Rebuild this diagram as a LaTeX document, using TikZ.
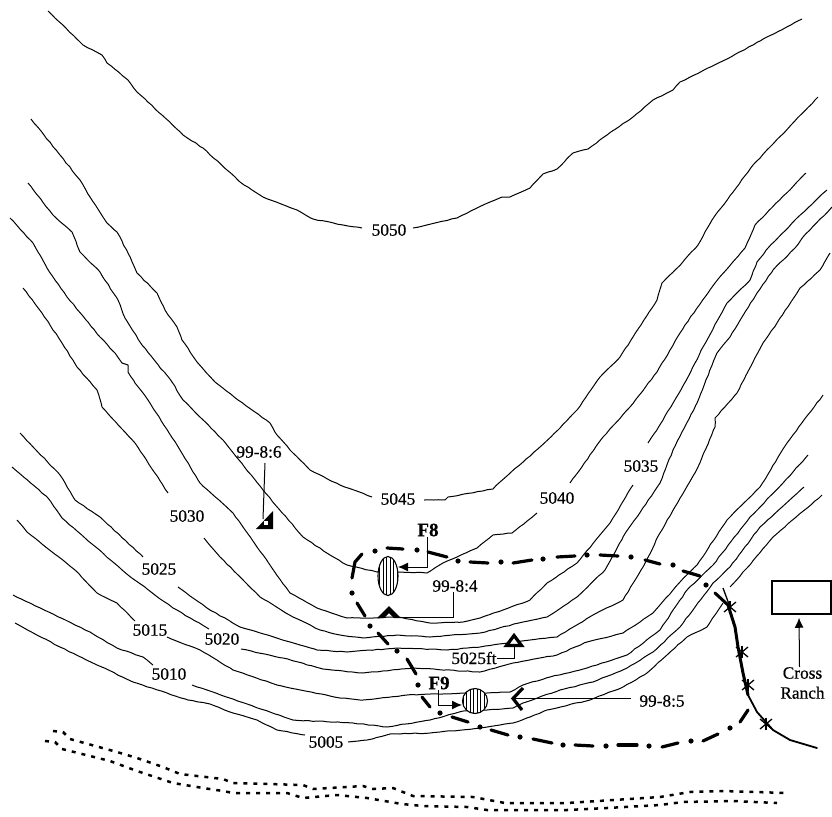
\documentclass[tikz,border=0pt]{standalone}
\usepackage{fontspec}
\setmainfont{Liberation Serif}[RawFeature={embolden=0.5}]
\usetikzlibrary{shapes.geometric}
\usetikzlibrary{arrows.meta}
\usetikzlibrary{decorations.pathmorphing}
\tikzset{
    contour/.style={line width=1pt, line join=round, decorate, decoration={random steps, segment length=5pt, amplitude=0.35pt}},
    elev/.style={font=\fontsize{17.3}{20}\selectfont, inner sep=0pt},
    sitename/.style={font=\fontsize{19}{20}\selectfont\bfseries, inner sep=0pt},
    leader/.style={line width=1pt},
    pointer/.style={leader, -{Latex[length=10pt, width=9pt]}},
    boundary/.style={line width=3.2pt, line cap=round},
    stream/.style={line width=2.5pt, dash pattern=on 4pt off 6pt, line join=round},
    fence/.style={line width=1.8pt, line join=round, line cap=round},
    marker/.style={line width=3.2pt, line join=miter},
    stripes/.style={draw, line width=1.1pt, fill=white, inner sep=0pt, path picture={
        \foreach \i in {-12,-8.5,...,12} {
            \draw[line width=1pt] ([xshift=\i pt]path picture bounding box.north) -- ([xshift=\i pt]path picture bounding box.south);
        }
    }}
}
\pgfmathsetseed{7}
\begin{document}
\begin{tikzpicture}[x=1pt, y=-1pt]
        \useasboundingbox (0,0) rectangle (832,816);

        % Contours
        \draw[contour] (48,11) -- (83,45) -- (102,55) -- (107,63) -- (128,80) -- (137,92) -- (162,115) -- (183,135) -- (203,148) -- (227,170) -- (240,182) -- (263,197) -- (297,210) -- (313,219) -- (343,225) -- (362,228);
        \draw[contour] (413,228) -- (457,218) -- (477,208) -- (502,197) -- (510,197) -- (530,188) -- (543,174) -- (557,169) -- (573,153) -- (588,149) -- (607,135) -- (633,117) -- (653,100) -- (673,90) -- (680,82) -- (727,59) -- (760,41) -- (802,19);

        \draw[contour] (31,119) -- (60,155) -- (80,180) -- (90,197) -- (107,223) -- (117,232) -- (128,253) -- (137,273) -- (157,293) -- (165,310) -- (177,327) -- (182,340) -- (197,362) -- (215,382) -- (238,400) -- (270,423) -- (277,435) -- (293,453) -- (310,470) -- (340,485) -- (372,497);
        \draw[contour] (424,500) -- (445,500) -- (448,497) -- (493,489) -- (500,482) -- (540,447) -- (560,428) -- (577,410) -- (600,377) -- (620,357) -- (633,337) -- (657,300) -- (662,283) -- (682,263) -- (698,245) -- (712,220) -- (753,165) -- (818,97);

        \draw[contour] (28,183) -- (53,215) -- (72,232) -- (80,252) -- (100,272) -- (118,300) -- (125,318) -- (142,345) -- (172,382) -- (183,400) -- (223,440) -- (263,490) -- (303,537) -- (330,555) -- (347,565) -- (377,572) -- (397,572) -- (427,573) -- (443,563) -- (477,548) -- (493,535) -- (512,533) -- (537,513);
        \draw[contour] (570,483) -- (603,437) -- (630,407) -- (657,372) -- (685,325) -- (715,283) -- (745,248) -- (755,225) -- (806,173);

        \draw[contour] (10,218) -- (33,243) -- (47,268) -- (67,297) -- (88,322) -- (100,337) -- (115,353) -- (122,363) -- (128,365) -- (128,372) -- (135,383) -- (148,400) -- (180,450) -- (200,483) -- (233,513) -- (257,547) -- (290,593) -- (317,608) -- (347,618) -- (373,618) -- (397,617) -- (430,623) -- (463,622) -- (480,618) -- (503,610) -- (530,600) -- (547,583) -- (577,563) -- (610,523) -- (633,485);
        \draw[contour] (648,443) -- (663,420) -- (688,377) -- (703,347) -- (727,303) -- (750,280) -- (757,262) -- (768,248) -- (797,218) -- (827,190);

        \draw[contour] (23,288) -- (42,313) -- (62,343) -- (77,367) -- (97,390) -- (102,407) -- (135,443) -- (168,493);
        \draw[contour] (204,538) -- (220,557) -- (260,597) -- (293,617) -- (320,630) -- (340,635) -- (363,638) -- (397,635) -- (430,637) -- (480,633) -- (523,622) -- (547,617) -- (577,597) -- (605,570) -- (623,537) -- (660,483) -- (673,450) -- (697,403) -- (717,353) -- (730,337) -- (757,293) -- (773,270) -- (795,248) -- (803,237) -- (832,207);

        \draw[contour] (20,433) -- (60,475) -- (75,500) -- (100,517) -- (143,557);
        \draw[contour] (178,587) -- (207,608) -- (240,627) -- (300,645) -- (317,650) -- (347,652) -- (397,648) -- (447,650) -- (480,647) -- (530,640) -- (557,637) -- (593,615) -- (623,600) -- (643,567) -- (660,533) -- (698,467) -- (715,427) -- (715,418) -- (737,393) -- (763,343) -- (777,323) -- (800,288) -- (820,270) -- (830,253);

        \draw[contour] (12,467) -- (48,498) -- (62,518) -- (128,575) -- (173,608) -- (209,629);
        \draw[contour] (241,649) -- (283,658) -- (323,669) -- (363,673) -- (413,668) -- (480,672) -- (513,663) -- (557,655) -- (587,642) -- (623,633) -- (653,613) -- (680,582) -- (697,565) -- (727,520) -- (760,487) -- (787,443) -- (823,395);

        \draw[contour] (17,520) -- (27,532) -- (75,570) -- (97,593) -- (117,603) -- (135,621);
        \draw[contour] (167,637) -- (200,650) -- (233,670) -- (277,685) -- (340,698) -- (363,700) -- (407,695) -- (463,693) -- (487,693) -- (510,692) -- (523,685) -- (550,677) -- (587,668) -- (627,655) -- (660,630) -- (687,590) -- (713,565) -- (750,517) -- (783,483) -- (808,455);

        \draw[contour] (13,595) -- (90,632) -- (117,648) -- (143,657) -- (153,665);
        \draw[contour] (192,685) -- (233,699) -- (270,712) -- (293,720) -- (353,723) -- (387,727) -- (430,720) -- (463,711) -- (487,710) -- (513,708) -- (523,703) -- (560,690) -- (593,682) -- (627,668) -- (653,652) -- (680,627) -- (713,583) -- (730,567) -- (760,527) -- (804,487);

        \draw[contour] (15,623) -- (60,647) -- (133,682) -- (188,700) -- (210,704) -- (233,713) -- (257,720) -- (277,730) -- (305,735);
        \draw[contour] (348,742) -- (367,740) -- (390,734) -- (430,733) -- (480,728) -- (513,723) -- (530,717) -- (547,710) -- (590,700) -- (623,687) -- (647,673) -- (667,655) -- (687,637) -- (707,627) -- (723,603);
        \draw[contour] (730,587) -- (747,568) -- (773,537) -- (822,495);

        % Contour labels
        \node[elev] (c5050) at (389,230) {5050};
        \node[elev] (c5045) at (398,499) {5045};
        \node[elev] (c5040) at (557,498) {5040};
        \node[elev] (c5035) at (641,466) {5035};
        \node[elev] (c5030) at (187,516) {5030};
        \node[elev] (c5025) at (159,569) {5025};
        \node[elev] (c5020) at (222,639) {5020};
        \node[elev] (c5015) at (150,630) {5015};
        \node[elev] (c5010) at (169,674) {5010};
        \node[elev] (c5005) at (326,742) {5005};

        % Stream
        \draw[stream] (53,731) -- (63,732) -- (70,739) -- (88,744) -- (117,752) -- (137,758) -- (163,767) -- (180,774) -- (223,779) -- (233,783) -- (303,785) -- (313,789) -- (363,786) -- (373,789) -- (393,788) -- (413,796) -- (473,797) -- (505,803) -- (567,803) -- (660,797) -- (690,792) -- (723,791) -- (787,793);
        \draw[stream] (45,741) -- (55,742) -- (62,749) -- (90,756) -- (110,761) -- (137,771) -- (155,777) -- (173,783) -- (203,788) -- (223,791) -- (233,793) -- (287,793) -- (303,798) -- (337,795) -- (367,798) -- (402,804) -- (423,806) -- (467,807) -- (487,810) -- (567,810) -- (607,808) -- (660,805) -- (683,802) -- (733,801) -- (777,803);

        % Site boundary
        \foreach \xa/\ya/\xb/\yb in {683/571/700/576, 645/560/660/564, 600/555/618/556, 557/557/575/556, 513/563/532/560, 470/562/488/563, 428/552/447/557, 387/548/403/549, 357/603/365/616, 378/633/388/644, 407/659/416/674, 422/697/430/707, 452/717/468/722, 491/730/508/735, 533/739/552/743, 575/745/593/746, 618/745/637/745, 662/747/678/743, 703/741/718/734, 740/722/748/710} {
            \draw[boundary] (\xa,\ya) -- (\xb,\yb);
        }
        \draw[boundary] (362,554) -- (355,562) -- (352,578);
        \foreach \x/\y in {706/585, 673/565, 631/557, 587/555, 543/559, 501/562, 458/561, 417/550, 375/551, 352/593, 370/626, 397/651, 418/685, 440/713, 480/727, 520/737, 563/745, 606/746, 649/746, 691/741, 730/728} {
            \fill (\x,\y) circle (2.6pt);
        }

        % Fence
        \draw[fence, line width=3pt] (715,593) -- (728,605) -- (735,627) -- (738,647) -- (743,673) -- (748,695);
        \draw[fence] (748,695) -- (757,712) -- (773,730) -- (790,740) -- (817,748);
        \draw[line width=1.3pt] (723,588) -- (730,607);
        \foreach \x/\y in {730/607, 742/652, 748/685, 766/724} {
            \draw[line width=1.3pt] (\x-6,\y-5) -- (\x+6,\y+5);
            \draw[line width=1.3pt] (\x-6,\y+5) -- (\x+6,\y-5);
            \draw[line width=1.3pt] (\x,\y-6) -- (\x,\y+6);
        }

        % Features
        \node[stripes, ellipse, minimum width=20pt, minimum height=39pt] (siteF8) at (388,576) {};
        \node[stripes, circle, minimum size=25pt] (siteF9) at (475,701) {};
        \node[sitename] (F8) at (428,530) {F8};
        \node[sitename] (F9) at (439,683) {F9};
        \coordinate (tipF8) at (398,567);
        \coordinate (tipF9) at (462,705);
        \draw[pointer] ([xshift=-1pt]F8.south) |- (tipF8);
        \draw[pointer] ([xshift=-1pt]F9.south) |- (tipF9);

        % Sample points
        \node[elev] (s4) at (455,586) {99-8:4};
        \node[elev] (s5) at (662,701) {99-8:5};
        \node[elev] (s6) at (259,452) {99-8:6};
        \node[elev] (s5025) at (474,658) {5025ft};
        \coordinate (mark4) at (400,617);
        \coordinate (mark5) at (515,698);
        \coordinate (mark6) at (263,519);
        \coordinate (mark5025) at (514,647);
        \coordinate (top6) at (265,463);

        \fill (377,618) -- (389,606) -- (401,618) -- (394,618) -- (389,613) -- (384,618) -- cycle;
        \draw[marker, fill=white] (506.5,645.5) -- (514,635.5) -- (521.5,645.5) -- cycle;
        \draw[marker] (523,688) -- (513,698.5) -- (522,710);
        \fill (256,529) -- (273,511) -- (273,529) -- cycle;
        \fill[white] (264,521) rectangle (268,525);

        \draw[leader] ([xshift=-2pt]s4.south) |- (mark4);
        \draw[leader] ([shift={(-8pt,3pt)}]s5.west) -- (mark5);
        \draw[leader] (top6) -- (mark6);
        \draw[leader] (s5025.east) -| (mark5025);

        % Ranch
        \node[draw, line width=1.5pt, minimum width=59pt, minimum height=33pt, inner sep=0pt] (ranch) at (801.5,597.5) {};
        \node[elev, align=center] (ranchname) at (802.5,683) {Cross\\Ranch};
        \draw[pointer, shorten >=3pt] ([xshift=-3pt]ranchname.north) -- ([xshift=-2.5pt]ranch.south);

\end{tikzpicture}
\end{document}
